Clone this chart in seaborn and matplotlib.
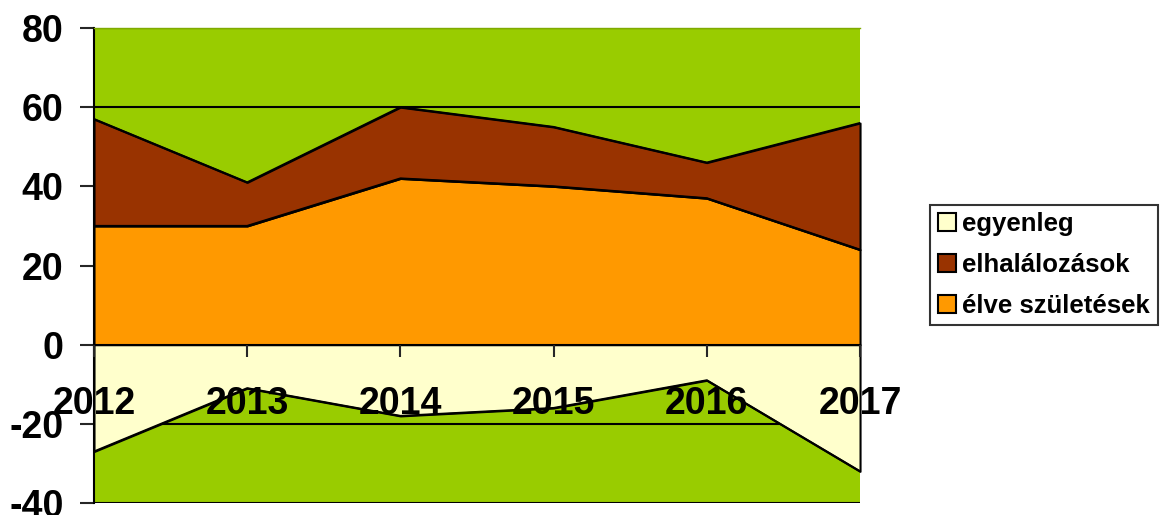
import matplotlib.pyplot as plt
import pandas as pd
import seaborn as sns

years = [2012, 2013, 2014, 2015, 2016, 2017]
births = [30, 30, 42, 40, 37, 24]          # élve születések
deaths = [27, 11, 18, 15, 9, 32]           # elhalálozások
balance = [-27, -11, -18, -16, -9, -32]    # egyenleg

names = ['egyenleg', 'elhalálozások', 'élve születések']
colors = ['#FFFFCC', '#993300', '#FF9900']
green = '#99CC00'

sns.set_style('white')
plt.rcParams['font.family'] = ['Liberation Sans', 'DejaVu Sans']
plt.rcParams['font.weight'] = 'bold'
plt.rcParams['axes.unicode_minus'] = False

top = [b + d for b, d in zip(births, deaths)]
lines = pd.concat([
    pd.DataFrame({'év': years, 'érték': births, 'sor': 'b'}),
    pd.DataFrame({'év': years, 'érték': top, 'sor': 't'}),
    pd.DataFrame({'év': years, 'érték': balance, 'sor': 'e'}),
])

fig = plt.figure(figsize=(11.66, 5.15), dpi=100)
ax = fig.add_axes([0.0806, 0.0233, 0.6570, 0.9223])
ax.set_facecolor(green)
ax.set_axisbelow(True)
ax.yaxis.grid(True, color='black', linewidth=1.5)
# year labels sit on top of the areas
ax.xaxis.set_zorder(5)

edge = dict(edgecolor='black', linewidth=1.5, clip_on=False)
ax.fill_between(years, 0, births, facecolor=colors[2], **edge)
ax.fill_between(years, births, top, facecolor=colors[1], **edge)
ax.fill_between(years, balance, 0, facecolor=colors[0], **edge)

sns.lineplot(data=lines, x='év', y='érték', hue='sor',
             palette=['black'] * 3, linewidth=1.5, legend=False, ax=ax)

ax.set_xlim(2012, 2017)
ax.set_ylim(-40, 80)
ax.set_yticks(range(-40, 81, 20))
ax.set_xticks(years)
ax.set_xticklabels([str(y) for y in years])
ax.set_xlabel('')
ax.set_ylabel('')

ax.spines['bottom'].set_position(('data', 0))
ax.spines['bottom'].set_color('black')
ax.spines['bottom'].set_linewidth(1.5)
ax.spines['left'].set_color('black')
ax.spines['left'].set_linewidth(1.5)
ax.spines['right'].set_visible(False)
ax.spines['top'].set_color('#7FAA00')
ax.spines['top'].set_linewidth(1)

ax.tick_params(axis='y', direction='out', length=10, width=1.5, pad=12,
               labelsize=27, left=True, labelcolor='black')
ax.tick_params(axis='x', direction='out', length=8.5, width=1.5, pad=21,
               labelsize=27, bottom=True, labelcolor='black')
for t in ax.get_xticklabels() + ax.get_yticklabels():
    t.set_fontweight('bold')

handles = [plt.Rectangle((0, 0), 1, 1, facecolor=c, edgecolor='black', linewidth=1.5)
           for c in colors]
leg = fig.legend(handles, names, loc='center left', bbox_to_anchor=(0.7976, 0.4854),
                 prop={'size': 18.5, 'weight': 'bold'}, frameon=True, fancybox=False,
                 handlelength=0.7, handleheight=0.7, handletextpad=0.25,
                 labelspacing=0.65, borderpad=0.3, borderaxespad=0)
leg.get_frame().set_edgecolor('black')
leg.get_frame().set_linewidth(1.5)
for t in leg.get_texts():
    t.set_color('black')

fig.savefig('out.png', dpi=100)
